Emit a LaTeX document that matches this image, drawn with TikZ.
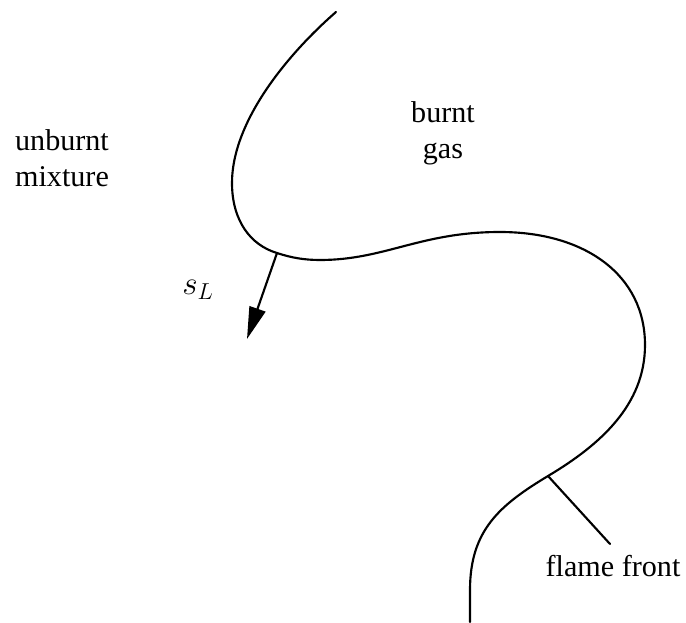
\documentclass[tikz,border=0pt]{standalone}
\usepackage{fontspec}
\setmainfont{Liberation Serif}
\usetikzlibrary{arrows.meta}
\tikzset{curve/.style={line width=1.6pt,line cap=round,black},
lbl/.style={font=\fontsize{22.6}{27}\selectfont,align=center,inner sep=0pt,black}}
\begin{document}
\begin{tikzpicture}[x=0.75pt,y=-0.75pt]
\useasboundingbox (0,0) rectangle (686,623);
\coordinate (top) at (336,12);
\coordinate (a) at (277,253);
\coordinate (b) at (548,476);
\coordinate (bot) at (470,622);
\draw[curve] (top) .. controls (290,52) and (232,120) .. (232,183)
 .. controls (232,220) and (250,245) .. (277,253)
 .. controls (292,258) and (305,260) .. (320,260)
 .. controls (385,260) and (420,232) .. (500,232)
 .. controls (585,232) and (645,275) .. (645,345)
 .. controls (645,405) and (600,445) .. (548,476)
 .. controls (500,505) and (470,530) .. (470,590)
 -- (bot);
\coordinate (tip) at (247,339);
\draw[curve,-{Triangle[length=24pt,width=12.5pt]}] (a) -- (tip);
\coordinate (ff) at (610,544);
\draw[curve] (b) -- (ff);
\node[lbl] (u) at (62,158) {unburnt\\mixture};
\node[lbl] (g) at (443,133) {burnt\\gas};
\node[lbl,font=\fontsize{26}{27}\selectfont] (s) at (198,290) {$s_L$};
\node[lbl] (f) at (613,566) {flame front};
\end{tikzpicture}
\end{document}
